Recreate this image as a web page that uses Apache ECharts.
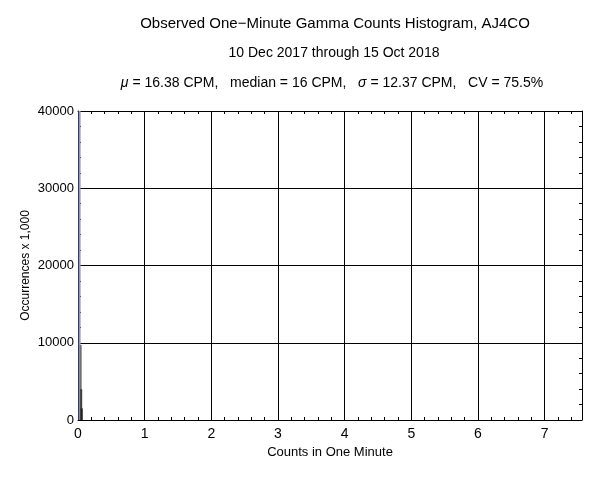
<!DOCTYPE html>
<html><head><meta charset="utf-8">
<script src="https://cdn.jsdelivr.net/npm/echarts@6/dist/echarts.min.js"></script>
<style>html,body{margin:0;padding:0;background:#fff}#c{width:600px;height:479px}</style>
</head><body><div id="c"></div>
<script>
const binCenters = [0.024, 0.04, 0.048, 0.056];
const binCounts = [40000, 9700, 4000, 1500];
const binColors = ['#9096c8', '#707070', '#404040', '#222222'];
const xMax = 7.56;
const yMax = 40000;
const titleLines = ['Observed One\u2212Minute Gamma Counts Histogram, AJ4CO', '10 Dec 2017 through 15 Oct 2018'];

const chart = echarts.init(document.getElementById('c'));
const font = 'Liberation Sans, Arial, sans-serif';
function axisBase(extra) {
  return Object.assign({
    type: 'value', min: 0,
    axisLine: {show: true, onZero: false, lineStyle: {color: '#000', width: 1}},
    axisTick: {show: true, inside: true, length: 5, lineStyle: {color: '#000'}},
    minorTick: {show: true, splitNumber: 5, length: 3, lineStyle: {color: '#000'}},
  }, extra);
}
chart.setOption({
  animation: false,
  backgroundColor: '#fff',
  textStyle: {fontFamily: font},
  title: [
    {text: titleLines[0], left: 330, textAlign: 'center', top: 11, textStyle: {fontSize: 15, fontWeight: 'normal', color: '#000', fontFamily: font}},
    {text: titleLines[1], left: 329, textAlign: 'center', top: 41, textStyle: {fontSize: 14, fontWeight: 'normal', color: '#000', fontFamily: font}},
    {text: '{i|\u03bc} = 16.38 CPM,   median = 16 CPM,   {i|\u03c3} = 12.37 CPM,   CV = 75.5%', left: 327, textAlign: 'center', top: 71,
     textStyle: {fontSize: 14, fontWeight: 'normal', color: '#000', fontFamily: font,
       rich: {i: {fontStyle: 'italic', fontSize: 14, fontFamily: font}}}}
  ],
  grid: {left: 78, right: 18, top: 111, bottom: 59},
  xAxis: [
    axisBase({max: xMax, interval: 1, position: 'bottom',
      name: 'Counts in One Minute', nameLocation: 'middle', nameGap: 26,
      nameTextStyle: {fontSize: 13, color: '#000', fontFamily: font},
      axisLabel: {fontSize: 14, color: '#000', margin: 7, fontFamily: font, showMaxLabel: false,
        formatter: v => (Math.abs(v - Math.round(v)) < 1e-6 ? String(Math.round(v)) : '')},
      splitLine: {show: true, lineStyle: {color: '#000', width: 1}}}),
    axisBase({max: xMax, interval: 1, position: 'top', axisLabel: {show: false}, splitLine: {show: false}})
  ],
  yAxis: [
    axisBase({max: yMax, interval: 10000, position: 'left',
      name: 'Occurrences x 1,000', nameLocation: 'middle', nameGap: 46, nameMoveOverlap: false,
      nameTextStyle: {fontSize: 12, color: '#000', fontFamily: font},
      axisLabel: {fontSize: 13, color: '#000', margin: 4, fontFamily: font, formatter: v => String(v)},
      splitLine: {show: true, lineStyle: {color: '#000', width: 1}}}),
    axisBase({max: yMax, interval: 10000, position: 'right', axisLabel: {show: false}, splitLine: {show: false}})
  ],
  series: [{
    type: 'bar', xAxisIndex: 0, yAxisIndex: 0, barWidth: 2, barGap: '-100%',
    clip: true, z: 10,
    data: binCenters.map((x, i) => ({value: [x, binCounts[i]], itemStyle: {color: binColors[i]}}))
  }]
});
</script></body></html>
